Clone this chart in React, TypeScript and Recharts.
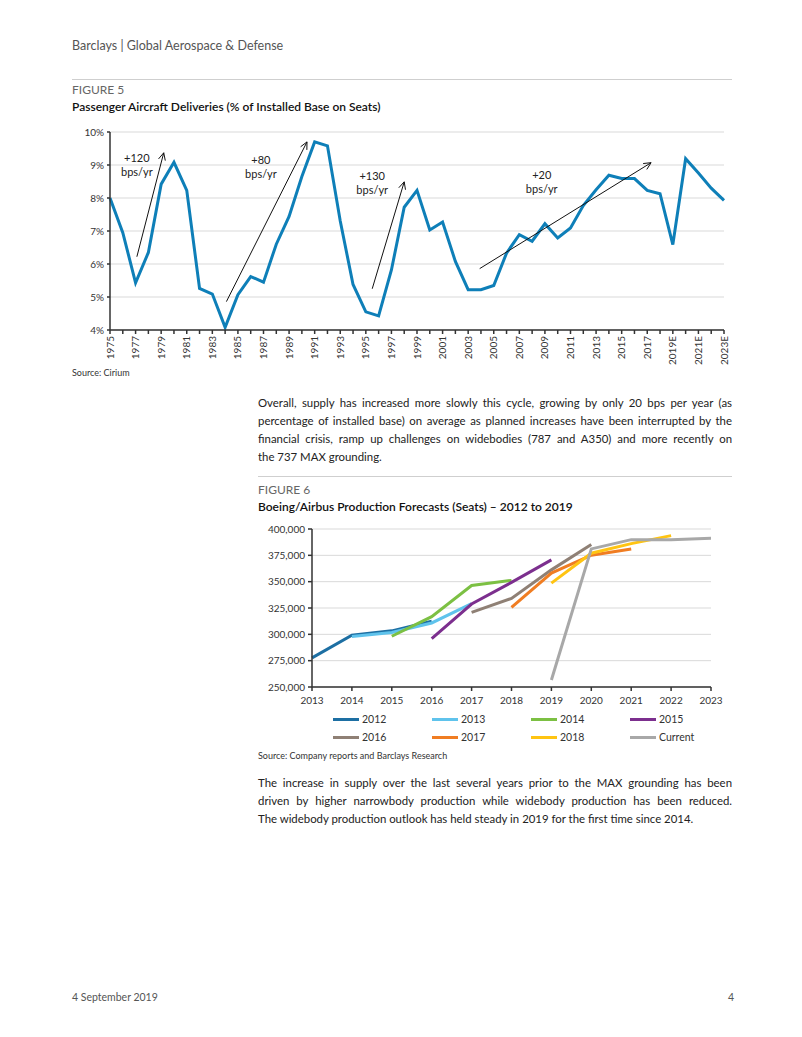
import React from 'react';
import {
  LineChart,
  Line,
  XAxis,
  YAxis,
  CartesianGrid,
  ReferenceLine,
  ReferenceDot,
  Legend,
} from 'recharts';

// Figure 5 - deliveries as % of installed base
const deliveryYears = [
  1975, 1976, 1977, 1978, 1979, 1980, 1981, 1982, 1983, 1984, 1985, 1986, 1987, 1988, 1989, 1990,
  1991, 1992, 1993, 1994, 1995, 1996, 1997, 1998, 1999, 2000, 2001, 2002, 2003, 2004, 2005, 2006,
  2007, 2008, 2009, 2010, 2011, 2012, 2013, 2014, 2015, 2016, 2017, 2018, 2019, 2020, 2021, 2022,
  2023,
];
const deliveryPct = [
  8.0, 6.95, 5.43, 6.35, 8.42, 9.08, 8.23, 5.26, 5.09, 4.08, 5.07, 5.62, 5.45, 6.6, 7.44, 8.65,
  9.7, 9.58, 7.3, 5.38, 4.55, 4.43, 5.82, 7.72, 8.23, 7.03, 7.27, 6.08, 5.22, 5.22, 5.35, 6.33,
  6.89, 6.69, 7.22, 6.79, 7.09, 7.77, 8.25, 8.69, 8.59, 8.59, 8.23, 8.13, 6.59, 9.19, 8.76, 8.3,
  7.93,
];
const estimateFrom = 2019;
const pctTicks = [4, 5, 6, 7, 8, 9, 10];

// growth arrows, in data units (year, %)
const trendArrows = [
  { from: [1977.1, 6.22], to: [1979.2, 9.37] },
  { from: [1984.1, 4.86], to: [1990.4, 9.7] },
  { from: [1995.5, 5.25], to: [1998.0, 8.49] },
  { from: [2003.9, 5.86], to: [2017.3, 9.07] },
];
const trendLabels = ['+120', '+80', '+130', '+20'];
const trendLabelAt = [
  [1977.1, 9.2],
  [1986.8, 9.14],
  [1995.5, 8.65],
  [2008.75, 8.68],
];

// Figure 6 - production forecasts (seats)
const forecastYears = [2013, 2014, 2015, 2016, 2017, 2018, 2019, 2020, 2021, 2022, 2023];
const f2012 = [277700, 299200, 303300, 312400, null, null, null, null, null, null, null];
const f2013 = [null, 298000, 301700, 310800, 329100, null, null, null, null, null, null];
const f2014 = [null, null, 298200, 316800, 346400, 351200, null, null, null, null, null];
const f2015 = [null, null, null, 296000, 328800, 349300, 370700, null, null, null, null];
const f2016 = [null, null, null, null, 320900, 334100, 361200, 385200, null, null, null];
const f2017 = [null, null, null, null, null, 325600, 358100, 375100, 381100, null, null];
const f2018 = [null, null, null, null, null, null, 348600, 377000, 386100, 393700, null];
const fCurrent = [null, null, null, null, null, null, 256600, 381100, 389900, 389900, 391200];
const seatTicks = [250000, 275000, 300000, 325000, 350000, 375000, 400000];

const forecastSeries = [
  { key: 's2012', name: '2012', values: f2012, color: '#1d6fa3' },
  { key: 's2013', name: '2013', values: f2013, color: '#5fc3ec' },
  { key: 's2014', name: '2014', values: f2014, color: '#7cc043' },
  { key: 's2015', name: '2015', values: f2015, color: '#7c2f8e' },
  { key: 's2016', name: '2016', values: f2016, color: '#8f8075' },
  { key: 's2017', name: '2017', values: f2017, color: '#f07d22' },
  { key: 's2018', name: '2018', values: f2018, color: '#ffc412' },
  { key: 'sCurrent', name: 'Current', values: fCurrent, color: '#a8a8a8' },
];

const deliveryData = deliveryYears.map((year, i) => ({ year, pct: deliveryPct[i] }));
const forecastData = forecastYears.map((year, i) => {
  const row: Record<string, number | null> = { year };
  forecastSeries.forEach((s) => (row[s.key] = s.values[i]));
  return row;
});

const FONT = 'Lato, "Open Sans", sans-serif';
const AXIS = '#333';

const YearTick = ({ x, y, payload, index }: any) => {
  if (index % 2 !== 0) return null;
  const label = payload.value >= estimateFrom ? `${payload.value}E` : `${payload.value}`;
  return (
    <g transform={`translate(${x},${y})`}>
      <text transform="rotate(-90)" textAnchor="end" dy="0.35em" fontSize={10} fill={AXIS} fontFamily={FONT}>
        {label}
      </text>
    </g>
  );
};

const ArrowShape = ({ x1, y1, x2, y2 }: any) => {
  const ang = Math.atan2(y2 - y1, x2 - x1);
  const len = 8;
  const a1 = ang + Math.PI - 0.45;
  const a2 = ang + Math.PI + 0.45;
  const pts = `${x2 + len * Math.cos(a1)},${y2 + len * Math.sin(a1)} ${x2},${y2} ${x2 + len * Math.cos(a2)},${y2 + len * Math.sin(a2)}`;
  return (
    <g>
      <line x1={x1} y1={y1} x2={x2} y2={y2} stroke="#111" strokeWidth={1} />
      <polyline points={pts} fill="none" stroke="#111" strokeWidth={1} />
    </g>
  );
};

const ForecastLegend = ({ payload }: any) => (
  <div
    style={{
      display: 'grid',
      gridTemplateColumns: 'repeat(4, 99px)',
      paddingTop: 3,
      marginLeft: 77,
      fontFamily: FONT,
      fontSize: 10.5,
      color: '#333',
    }}
  >
    {(payload || []).map((p: any) => (
      <div key={p.value} style={{ display: 'flex', alignItems: 'center', height: 18 }}>
        <span style={{ display: 'inline-block', width: 26, height: 3, background: p.color, marginRight: 3 }} />
        <span>{p.value}</span>
      </div>
    ))}
  </div>
);

const para: React.CSSProperties = {
  fontFamily: FONT,
  fontSize: 11.4,
  lineHeight: '18.2px',
  color: '#222',
  textAlign: 'justify',
  textAlignLast: 'justify',
  whiteSpace: 'nowrap',
};

const abs = (left: number, top: number, extra: React.CSSProperties = {}): React.CSSProperties => ({
  position: 'absolute',
  left,
  top,
  fontFamily: FONT,
  whiteSpace: 'nowrap',
  ...extra,
});

export default function App() {
  return (
    <div style={{ position: 'absolute', left: 0, top: 0, width: 802, height: 1037, background: '#fff' }}>
      <div style={abs(72, 38, { fontSize: 12.5, color: '#555' })}>Barclays | Global Aerospace &amp; Defense</div>
      <div style={{ position: 'absolute', left: 72, top: 79, width: 660, height: 1, background: '#cfcfcf' }} />

      <div style={abs(72, 82, { fontSize: 12, color: '#666' })}>FIGURE 5</div>
      <div style={abs(72, 99, { fontSize: 12, color: '#111', fontWeight: 600 })}>
        Passenger Aircraft Deliveries (% of Installed Base on Seats)
      </div>

      <div style={{ position: 'absolute', left: 60, top: 122 }}>
        <LineChart width={680} height={243} data={deliveryData} margin={{ top: 10, right: 16, left: 0, bottom: 0 }}>
          <CartesianGrid horizontal vertical={false} stroke="#d9d9d9" />
          <XAxis
            dataKey="year"
            type="number"
            domain={[1975, 2023]}
            ticks={deliveryYears}
            interval={0}
            tick={<YearTick />}
            tickSize={4}
            tickMargin={2}
            height={35}
            stroke={AXIS}
            strokeWidth={1.5}
          />
          <YAxis
            domain={[4, 10]}
            ticks={pctTicks}
            tickFormatter={(v) => `${v}%`}
            width={50}
            tickSize={3}
            tickMargin={3}
            stroke={AXIS}
            strokeWidth={1.5}
            tick={{ fontSize: 10, fill: AXIS, fontFamily: FONT }}
          />
          <Line
            dataKey="pct"
            stroke="#0e7fb8"
            strokeWidth={3}
            dot={false}
            isAnimationActive={false}
          />
          {trendArrows.map((a, i) => (
            <ReferenceLine
              key={`arrow-${i}`}
              segment={[
                { x: a.from[0], y: a.from[1] },
                { x: a.to[0], y: a.to[1] },
              ]}
              shape={ArrowShape}
              ifOverflow="visible"
            />
          ))}
          {trendLabels.map((t, i) => (
            <ReferenceDot
              key={`lbl-${i}`}
              x={trendLabelAt[i][0]}
              y={trendLabelAt[i][1]}
              r={0}
              ifOverflow="visible"
              shape={(p: any) => (
                <text x={p.cx} y={p.cy} textAnchor="middle" fontSize={11} fill="#222" fontFamily={FONT}>
                  <tspan x={p.cx} dy="0.35em">{t}</tspan>
                  <tspan x={p.cx} dy="14">bps/yr</tspan>
                </text>
              )}
            />
          ))}
        </LineChart>
      </div>

      <div style={abs(72, 367, { fontSize: 9, color: '#333' })}>Source: Cirium</div>

      <div style={{ position: 'absolute', left: 258, top: 393.5, width: 474 }}>
        <div style={para}>Overall, supply has increased more slowly this cycle, growing by only 20 bps per year (as</div>
        <div style={para}>percentage of installed base) on average as planned increases have been interrupted by the</div>
        <div style={para}>financial crisis, ramp up challenges on widebodies (787 and A350) and more recently on</div>
        <div style={{ ...para, textAlignLast: 'left' }}>the 737 MAX grounding.</div>
      </div>

      <div style={{ position: 'absolute', left: 258, top: 476, width: 474, height: 1, background: '#cfcfcf' }} />
      <div style={abs(258, 482, { fontSize: 12, color: '#666' })}>FIGURE 6</div>
      <div style={abs(258, 498.5, { fontSize: 12, color: '#111', fontWeight: 600 })}>
        Boeing/Airbus Production Forecasts (Seats) – 2012 to 2019
      </div>

      <div style={{ position: 'absolute', left: 250, top: 515 }}>
        <LineChart width={481} height={231} data={forecastData} margin={{ top: 14, right: 20, left: 6, bottom: 0 }}>
          <CartesianGrid horizontal vertical={false} stroke="#d9d9d9" />
          <XAxis
            dataKey="year"
            type="number"
            domain={[2013, 2023]}
            ticks={forecastYears}
            interval={0}
            height={20}
            tickSize={4}
            tickMargin={6}
            stroke={AXIS}
            strokeWidth={1.5}
            tick={{ fontSize: 10, fill: AXIS, fontFamily: FONT }}
          />
          <YAxis
            domain={[250000, 400000]}
            ticks={seatTicks}
            tickFormatter={(v) => v.toLocaleString('en-US')}
            width={56}
            tickSize={4}
            tickMargin={3}
            stroke={AXIS}
            strokeWidth={1.5}
            tick={{ fontSize: 10, fill: AXIS, fontFamily: FONT }}
          />
          {forecastSeries.map((s) => (
            <Line
              key={s.key}
              dataKey={s.key}
              name={s.name}
              stroke={s.color}
              strokeWidth={3}
              dot={false}
              connectNulls={false}
              isAnimationActive={false}
            />
          ))}
          <Legend verticalAlign="bottom" content={<ForecastLegend />} />
        </LineChart>
      </div>

      <div style={abs(258, 750, { fontSize: 9, color: '#333' })}>Source: Company reports and Barclays Research</div>

      <div style={{ position: 'absolute', left: 258, top: 774, width: 474 }}>
        <div style={para}>The increase in supply over the last several years prior to the MAX grounding has been</div>
        <div style={para}>driven by higher narrowbody production while widebody production has been reduced.</div>
        <div style={{ ...para, textAlignLast: 'left' }}>
          The widebody production outlook has held steady in 2019 for the first time since 2014.
        </div>
      </div>

      <div style={abs(72, 991, { fontSize: 10.5, color: '#555' })}>4 September 2019</div>
      <div style={abs(728, 991, { fontSize: 10.5, color: '#555' })}>4</div>
    </div>
  );
}
